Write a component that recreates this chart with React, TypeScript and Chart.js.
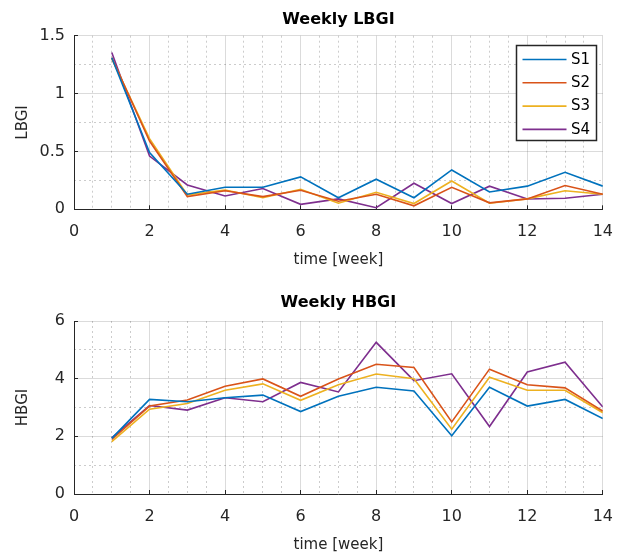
import React, { useEffect, useRef } from 'react';
import { Chart, registerables } from 'chart.js';

Chart.register(...registerables);

// ---------- data ----------
const weeks = [1, 2, 3, 4, 5, 6, 7, 8, 9, 10, 11, 12, 13, 14];
const seriesNames = ['S1', 'S2', 'S3', 'S4'];
const seriesColors = ['#0072BD', '#D95319', '#EDB120', '#7E2F8E'];

const lbgiS1 = [1.31, 0.49, 0.13, 0.19, 0.19, 0.28, 0.10, 0.26, 0.10, 0.34, 0.15, 0.20, 0.32, 0.20];
const lbgiS2 = [1.31, 0.59, 0.11, 0.16, 0.11, 0.165, 0.07, 0.13, 0.03, 0.19, 0.056, 0.09, 0.205, 0.13];
const lbgiS3 = [1.30, 0.61, 0.125, 0.167, 0.10, 0.173, 0.052, 0.147, 0.05, 0.245, 0.052, 0.09, 0.16, 0.13];
const lbgiS4 = [1.355, 0.46, 0.21, 0.115, 0.18, 0.043, 0.09, 0.014, 0.225, 0.05, 0.20, 0.089, 0.095, 0.13];

const hbgiS1 = [1.93, 3.28, 3.20, 3.34, 3.43, 2.86, 3.39, 3.70, 3.57, 2.02, 3.70, 3.05, 3.28, 2.62];
const hbgiS2 = [1.89, 3.05, 3.26, 3.74, 3.99, 3.39, 3.99, 4.50, 4.39, 2.50, 4.33, 3.79, 3.68, 2.88];
const hbgiS3 = [1.82, 2.94, 3.14, 3.60, 3.82, 3.25, 3.79, 4.16, 4.00, 2.25, 4.05, 3.60, 3.60, 2.82];
const hbgiS4 = [1.95, 3.07, 2.91, 3.34, 3.20, 3.87, 3.54, 5.26, 3.93, 4.17, 2.34, 4.23, 4.57, 3.02];

const xRange = [0, 14];
const xMajorStep = 2;
const xMinorStep = 0.5;
const lbgiRange = [0, 1.5];
const lbgiMajorStep = 0.5;
const lbgiMinorStep = 0.25;
const hbgiRange = [0, 6];
const hbgiMajorStep = 2;
const hbgiMinorStep = 1;

const FONT = 'DejaVu Sans';
const AXIS_COLOR = '#262626';
const MAJOR_GRID = 'rgba(0,0,0,0.14)';
const MINOR_GRID = 'rgba(0,0,0,0.2)';

Chart.defaults.font.family = FONT;

const insideLegend = {
  id: 'insideLegend',
  afterDraw(chart: any, _args: any, opts: any) {
    if (!opts || !opts.display) return;
    const { ctx, chartArea } = chart;
    const w = 81;
    const h = 96;
    const x = Math.round(chartArea.right - 6 - w);
    const y = Math.round(chartArea.top + 9);
    ctx.save();
    ctx.fillStyle = '#ffffff';
    ctx.fillRect(x, y, w, h);
    ctx.strokeStyle = AXIS_COLOR;
    ctx.lineWidth = 1.5;
    ctx.strokeRect(x + 0.5, y + 0.5, w - 1, h - 1);
    ctx.font = `15px "${FONT}"`;
    ctx.textBaseline = 'middle';
    ctx.textAlign = 'left';
    chart.data.datasets.forEach((ds: any, i: number) => {
      const cy = y + 14.5 + i * 23.3;
      ctx.strokeStyle = ds.borderColor;
      ctx.lineWidth = ds.borderWidth;
      ctx.beginPath();
      ctx.moveTo(x + 6.5, cy);
      ctx.lineTo(x + 50.5, cy);
      ctx.stroke();
      ctx.fillStyle = '#000';
      ctx.fillText(ds.label, x + 55, cy + 0.5);
    });
    ctx.restore();
  },
};

function isMultiple(v: number, step: number) {
  const r = v / step;
  return Math.abs(r - Math.round(r)) < 1e-6;
}

function buildConfig(opts: {
  title: string;
  yTitle: string;
  series: number[][];
  yRange: number[];
  yMajor: number;
  yMinor: number;
  titlePad: { top: number; bottom: number };
  xScaleHeight: number;
  xTitleBottom: number;
  legend: boolean;
}) {
  const tickFont = { family: FONT, size: 16 };
  const labelFont = { family: FONT, size: 15 };
  return {
    type: 'line' as const,
    data: {
      datasets: opts.series.map((vals, i) => ({
        label: seriesNames[i],
        data: weeks.map((w, j) => ({ x: w, y: vals[j] })),
        borderColor: seriesColors[i],
        backgroundColor: seriesColors[i],
        borderWidth: 1.6,
        pointRadius: 0,
        tension: 0,
        fill: false,
      })),
    },
    options: {
      responsive: false,
      animation: false,
      devicePixelRatio: 1,
      layout: { padding: { left: 0, right: 22, top: 0, bottom: 0 } },
      plugins: {
        legend: { display: false },
        tooltip: { enabled: false },
        title: {
          display: true,
          text: opts.title,
          fullSize: false,
          color: '#000',
          font: { family: FONT, size: 16, weight: 'bold' },
          padding: opts.titlePad,
        },
        insideLegend: { display: opts.legend },
      },
      scales: {
        x: {
          type: 'linear',
          position: 'bottom',
          min: xRange[0],
          max: xRange[1],
          ticks: {
            stepSize: xMajorStep,
            autoSkip: false,
            maxRotation: 0,
            padding: 17,
            color: AXIS_COLOR,
            font: tickFont,
            callback: (v: any) => `${Number(v)}`,
          },
          grid: {
            color: MAJOR_GRID,
            lineWidth: 1,
            drawTicks: true,
            tickLength: -4,
            tickColor: AXIS_COLOR,
          },
          border: { display: true, color: AXIS_COLOR, width: 1, z: 1 },
          title: {
            display: true,
            text: 'time [week]',
            color: AXIS_COLOR,
            font: labelFont,
            padding: { top: 0, bottom: opts.xTitleBottom },
          },
          afterFit: (s: any) => {
            s.height = opts.xScaleHeight;
          },
        },
        xMinor: {
          type: 'linear',
          position: 'bottom',
          min: xRange[0],
          max: xRange[1],
          ticks: { display: false, stepSize: xMinorStep, autoSkip: false },
          grid: {
            drawTicks: false,
            lineWidth: 1,
            color: (c: any) =>
              c.tick && !isMultiple(c.tick.value, xMajorStep) ? MINOR_GRID : 'rgba(0,0,0,0)',
          },
          border: { display: false, dash: [2, 3] },
          afterFit: (s: any) => {
            s.height = 0;
          },
        },
        y: {
          type: 'linear',
          position: 'left',
          min: opts.yRange[0],
          max: opts.yRange[1],
          ticks: {
            stepSize: opts.yMajor,
            autoSkip: false,
            padding: 13,
            color: AXIS_COLOR,
            font: tickFont,
            callback: (v: any) => `${Number(v)}`,
          },
          grid: {
            color: MAJOR_GRID,
            lineWidth: 1,
            drawTicks: true,
            tickLength: -4,
            tickColor: AXIS_COLOR,
          },
          border: { display: true, color: AXIS_COLOR, width: 1, z: 1 },
          title: {
            display: true,
            text: opts.yTitle,
            color: AXIS_COLOR,
            font: labelFont,
            padding: { top: 14, bottom: 0 },
          },
          afterFit: (s: any) => {
            s.width = 74;
          },
        },
        yMinor: {
          type: 'linear',
          position: 'left',
          min: opts.yRange[0],
          max: opts.yRange[1],
          ticks: { display: false, stepSize: opts.yMinor, autoSkip: false },
          grid: {
            drawTicks: false,
            lineWidth: 1,
            color: (c: any) =>
              c.tick && !isMultiple(c.tick.value, opts.yMajor) ? MINOR_GRID : 'rgba(0,0,0,0)',
          },
          border: { display: false, dash: [2, 3] },
          afterFit: (s: any) => {
            s.width = 0;
          },
        },
      },
    },
    plugins: [insideLegend],
  };
}

export default function App() {
  const topRef = useRef<HTMLCanvasElement | null>(null);
  const bottomRef = useRef<HTMLCanvasElement | null>(null);

  useEffect(() => {
    const charts: Chart[] = [];
    if (topRef.current) {
      charts.push(
        new Chart(
          topRef.current,
          buildConfig({
            title: 'Weekly LBGI',
            yTitle: 'LBGI',
            series: [lbgiS1, lbgiS2, lbgiS3, lbgiS4],
            yRange: lbgiRange,
            yMajor: lbgiMajorStep,
            yMinor: lbgiMinorStep,
            titlePad: { top: 10.5, bottom: 6 },
            xScaleHeight: 68.7,
            xTitleBottom: 9,
            legend: true,
          }) as any
        )
      );
    }
    if (bottomRef.current) {
      charts.push(
        new Chart(
          bottomRef.current,
          buildConfig({
            title: 'Weekly HBGI',
            yTitle: 'HBGI',
            series: [hbgiS1, hbgiS2, hbgiS3, hbgiS4],
            yRange: hbgiRange,
            yMajor: hbgiMajorStep,
            yMinor: hbgiMinorStep,
            titlePad: { top: 15.4, bottom: 8.4 },
            xScaleHeight: 62,
            xTitleBottom: 2,
            legend: false,
          }) as any
        )
      );
    }
    return () => {
      charts.forEach((c) => c.destroy());
    };
  }, []);

  return (
    <div style={{ position: 'absolute', left: 0, top: 0, width: 630, height: 556, background: '#fff' }}>
      <canvas ref={topRef} width={630} height={278} style={{ display: 'block', width: 630, height: 278 }} />
      <canvas ref={bottomRef} width={630} height={278} style={{ display: 'block', width: 630, height: 278 }} />
    </div>
  );
}
